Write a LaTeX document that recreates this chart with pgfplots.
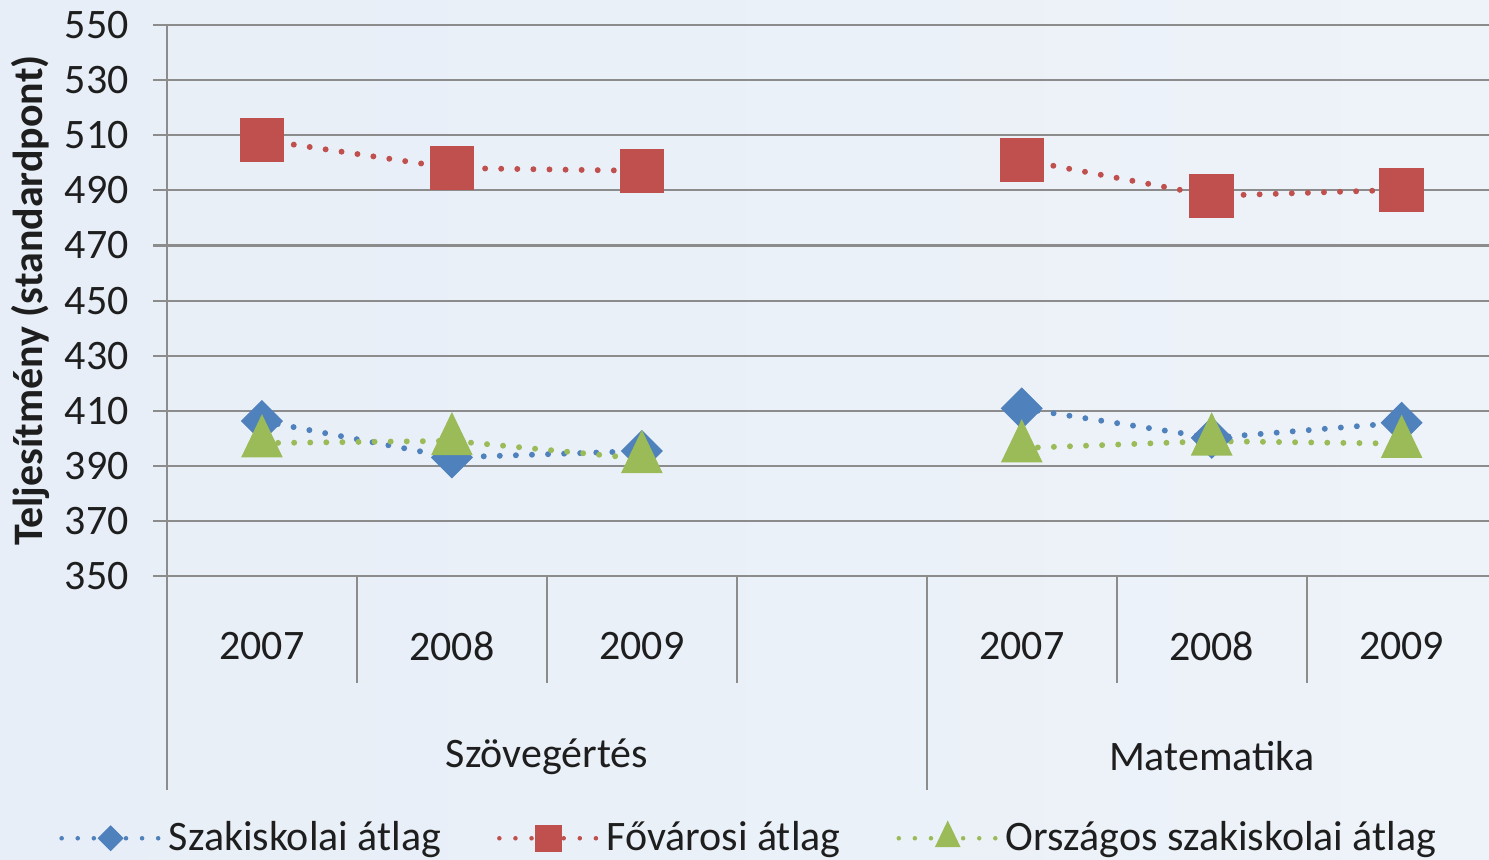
\documentclass[border=0pt]{standalone}
\usepackage{fontspec}
\setmainfont{Carlito}
\usepackage{pgfplots}
\pgfplotsset{compat=1.18}
\usetikzlibrary{backgrounds}
\definecolor{szblue}{RGB}{79,129,189}
\definecolor{fored}{RGB}{192,80,77}
\definecolor{orgreen}{RGB}{155,187,89}
\definecolor{gridgray}{RGB}{140,140,140}
\definecolor{bgleft}{RGB}{231,238,247}
\definecolor{bgmid}{RGB}{248,250,253}
\definecolor{bgright}{RGB}{238,243,249}
\definecolor{txt}{RGB}{30,30,30}

\begin{document}
\begin{tikzpicture}
\begin{axis}[
  name=ax,
  scale only axis,
  width=378pt, height=157.6pt,
  xmin=-0.5, xmax=6.46,
  ymin=350, ymax=550,
  ytick={350,370,...,550},
  xtick={0,1,2,4,5,6},
  xticklabels={2007,2008,2009,2007,2008,2009},
  axis x line*=bottom, axis y line*=left,
  axis line style={-, draw=gridgray, line width=0.6pt},
  xtick style={draw=none},
  ytick style={draw=gridgray, line width=0.6pt},
  tick align=outside, major tick length=4pt,
  ymajorgrids, grid style={draw=gridgray, line width=0.6pt},
  tick label style={font=\fontsize{12}{14}\selectfont, text=txt},
  /pgf/number format/assume math mode=true,
  /pgf/number format/1000 sep={},
  xticklabel style={anchor=center, yshift=-16pt},
  yticklabel style={anchor=east, xshift=-3.4pt},
  ylabel={Teljesítmény (standardpont)},
  ylabel style={at={(axis description cs:-0.103,0.5)}, anchor=center,
    font=\fontsize{12}{14}\selectfont\bfseries, text=txt},
  clip=false,
  unbounded coords=jump,
  legend columns=3,
  legend style={at={(0.442,-0.4755)}, anchor=center, draw=none, fill=none,
    font=\fontsize{12}{14}\selectfont, text=txt,
    /tikz/every even column/.append style={column sep=14pt}},
  legend image code/.code={\draw[mark repeat=2,mark phase=2,line width=1.3pt,
    /tikz/every mark/.append style={scale=0.6}]
    plot coordinates {(0pt,0pt)(14pt,0pt)(28pt,0pt)};},
  every axis plot/.append style={line width=1.7pt, line cap=round, dash pattern=on 0pt off 4.6pt},
]
\addplot[szblue, mark=diamond*, mark size=5.8pt,
  mark options={solid, xscale=1.333, line width=0.3pt}]
  coordinates {(0,406.3)(1,393.1)(2,395.4)(3,nan)(4,410.9)(5,400.2)(6,405.7)};
\addlegendentry{Szakiskolai átlag}
\addplot[fored, mark=square*, mark size=6.2pt,
  mark options={solid, line width=0.3pt}]
  coordinates {(0,508.3)(1,498.1)(2,497.1)(3,nan)(4,501.1)(5,488.0)(6,490.2)};
\addlegendentry{Fővárosi átlag}
\addplot[orgreen, mark=triangle*, mark size=6.6pt,
  mark options={solid, yscale=1.2, line width=0.3pt}]
  coordinates {(0,398.3)(1,399.1)(2,392.6)(3,nan)(4,396.5)(5,399.0)(6,398.1)};
\addlegendentry{Országos szakiskolai átlag}

\draw[gridgray, line width=0.6pt] (axis cs:0.5,350) -- ([yshift=-30.6pt]axis cs:0.5,350);
\draw[gridgray, line width=0.6pt] (axis cs:1.5,350) -- ([yshift=-30.6pt]axis cs:1.5,350);
\draw[gridgray, line width=0.6pt] (axis cs:2.5,350) -- ([yshift=-30.6pt]axis cs:2.5,350);
\draw[gridgray, line width=0.6pt] (axis cs:4.5,350) -- ([yshift=-30.6pt]axis cs:4.5,350);
\draw[gridgray, line width=0.6pt] (axis cs:5.5,350) -- ([yshift=-30.6pt]axis cs:5.5,350);
\draw[gridgray, line width=0.6pt] (axis cs:-0.5,350) -- ([yshift=-61.2pt]axis cs:-0.5,350);
\draw[gridgray, line width=0.6pt] (axis cs:3.5,350) -- ([yshift=-61.2pt]axis cs:3.5,350);
\node[font=\fontsize{12}{14}\selectfont, text=txt] at (axis cs:1.5,350) [yshift=-51.5pt] {Szövegértés};
\node[font=\fontsize{12}{14}\selectfont, text=txt] at (axis cs:5,350) [yshift=-51.5pt] {Matematika};
\end{axis}
\begin{scope}[on background layer]
\shade[left color=bgleft, middle color=bgmid, right color=bgright]
  ([shift={(-47.75pt,-80.9pt)}]ax.south west) rectangle ([shift={(0pt,7.15pt)}]ax.north east);
\end{scope}
\pgfresetboundingbox
\path[use as bounding box] ([shift={(-47.75pt,-80.9pt)}]ax.south west) rectangle ([shift={(0pt,7.15pt)}]ax.north east);
\end{tikzpicture}
\end{document}
